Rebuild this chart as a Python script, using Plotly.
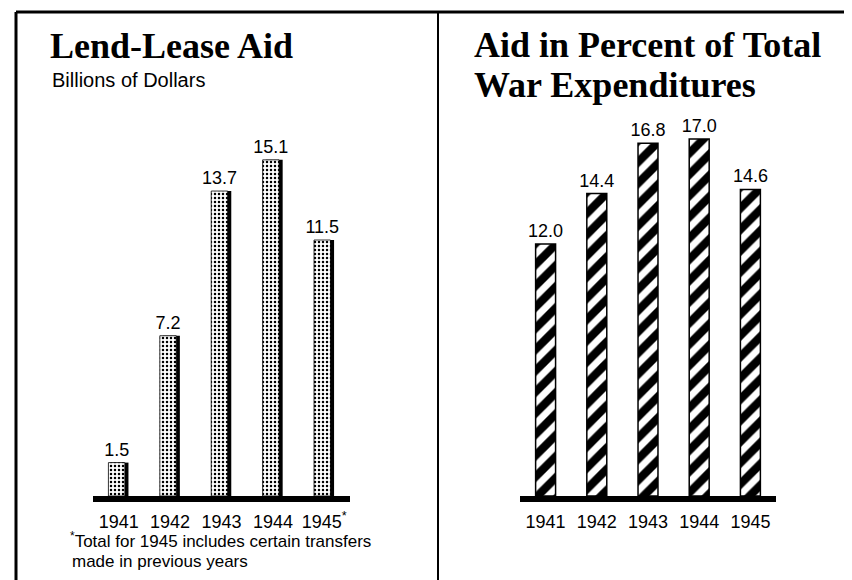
import plotly.graph_objects as go

# ----- DATA -----
years = ["1941", "1942", "1943", "1944", "1945"]
year_labels = ["1941", "1942", "1943", "1944", "1945<sup>*</sup>"]
lend_lease = [1.5, 7.2, 13.7, 15.1, 11.5]          # billions of dollars
pct_of_war_exp = [12.0, 14.4, 16.8, 17.0, 14.6]    # percent

W, H = 852, 580


def px(x):
    return x / W


def py(y):
    return 1 - y / H


SERIF = "Liberation Serif, Times New Roman, serif"
SANS = "Liberation Sans, Arial, sans-serif"
LABEL_SIZE = 18

fig = go.Figure()

# Left panel: dark shadow behind dotted bars
fig.add_trace(go.Bar(
    x=years, y=lend_lease,
    width=0.33, offset=-0.14,
    marker=dict(color="black", line=dict(width=0)),
    xaxis="x", yaxis="y", hoverinfo="skip",
))
fig.add_trace(go.Bar(
    x=years, y=lend_lease,
    width=0.32, offset=-0.2,
    marker=dict(
        color="white",
        line=dict(color="black", width=0.8),
        pattern=dict(shape=".", fgcolor="black", bgcolor="white",
                     fgopacity=1, size=4, solidity=0.3),
    ),
    text=[f"{v:.1f}" for v in lend_lease],
    textposition="outside", constraintext="none",
    textfont=dict(family=SANS, size=LABEL_SIZE, color="black"),
    cliponaxis=False,
    xaxis="x", yaxis="y",
))

# Right panel: striped bars
fig.add_trace(go.Bar(
    x=years, y=pct_of_war_exp,
    width=0.39,
    marker=dict(
        color="white",
        line=dict(color="black", width=1.5),
        pattern=dict(shape="/", fgcolor="black", bgcolor="white",
                     fgopacity=1, size=15, solidity=0.55),
    ),
    text=[f"{v:.1f}" for v in pct_of_war_exp],
    textposition="outside", constraintext="none",
    textfont=dict(family=SANS, size=LABEL_SIZE, color="black"),
    cliponaxis=False,
    xaxis="x2", yaxis="y2",
))

axis_common = dict(
    type="category", showgrid=False, zeroline=False,
    showline=True, linecolor="black", linewidth=6,
    ticks="", tickfont=dict(family=SANS, size=LABEL_SIZE, color="black"),
    ticklabelstandoff=4, fixedrange=True,
)
yaxis_common = dict(visible=False, showgrid=False, zeroline=False, fixedrange=True)

fig.update_layout(
    width=W, height=H,
    margin=dict(l=0, r=0, t=0, b=0),
    paper_bgcolor="white", plot_bgcolor="rgba(0,0,0,0)",
    showlegend=False, barmode="overlay",
    xaxis=dict(domain=[px(85), px(342)], anchor="y", range=[-0.5, 4.5],
               tickvals=years, ticktext=year_labels, **axis_common),
    yaxis=dict(domain=[py(488), py(60)], anchor="x", range=[0, 428 / 22.26], **yaxis_common),
    xaxis2=dict(domain=[px(512), px(768)], anchor="y2", range=[-0.5, 4.5], **axis_common),
    yaxis2=dict(domain=[py(488), py(60)], anchor="x2", range=[0, 428 / 21.0], **yaxis_common),
)

# Frame
frame = dict(type="line", xref="paper", yref="paper", line=dict(color="black", width=3))
thin = dict(frame, line=dict(color="black", width=2))
fig.add_shape(x0=px(8), x1=px(852), y0=py(4), y1=py(4), **frame)
fig.add_shape(x0=px(8), x1=px(8), y0=py(4), y1=py(580), **frame)
fig.add_shape(x0=px(430), x1=px(430), y0=py(4), y1=py(580), **thin)
fig.add_shape(x0=px(850), x1=px(850), y0=py(4), y1=py(580), **thin)


# Titles and notes
def note(text, x, y, size, family, bold=False):
    fig.add_annotation(
        text=f"<b>{text}</b>" if bold else text,
        x=px(x), y=py(y), xref="paper", yref="paper",
        xanchor="left", yanchor="middle", showarrow=False, align="left",
        font=dict(family=family, size=size, color="black"),
    )


note("Lend-Lease Aid", 40, 38, 36, SERIF, bold=True)
note("Billions of Dollars", 42, 72, 20, SANS)
note("Aid in Percent of Total", 464, 37, 36, SERIF, bold=True)
note("War Expenditures", 464, 77, 36, SERIF, bold=True)
note("<sup>*</sup>Total for 1945 includes certain transfers", 60, 532, 17, SANS)
note("made in previous years", 62, 553, 17, SANS)

fig.write_html("out.html")
